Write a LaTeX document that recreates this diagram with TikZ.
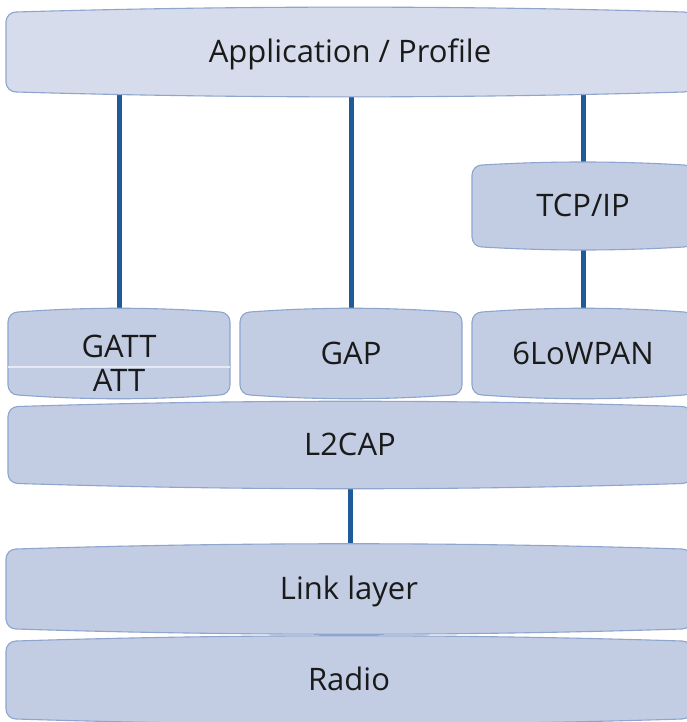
\documentclass[tikz,border=0pt]{standalone}
\usepackage{fontspec}
\setmainfont{Open Sans}
\usetikzlibrary{calc}
\pgfdeclarelayer{back}
\pgfdeclarelayer{mid}
\pgfsetlayers{back,mid,main}
\definecolor{appfill}{HTML}{D6DCEB}
\definecolor{boxfill}{HTML}{C2CDE3}
\definecolor{edge}{HTML}{8EA5CE}
\definecolor{connblue}{HTML}{1F5B98}
\definecolor{txt}{HTML}{1A1A1A}
\definecolor{divcol}{HTML}{E4E9F3}
\tikzset{
  box/.style={draw=none, fill=none, inner sep=0pt, outer sep=0pt,
    font=\fontsize{31}{36}\selectfont, text=txt, text height=25.5pt, text depth=3.6pt},
  lbl/.style={inner sep=0pt, font=\fontsize{31}{36}\selectfont, text=txt, text height=25.5pt, text depth=3.6pt},
  conn/.style={draw=connblue, line width=5pt},
  pillow/.style={draw=edge, line width=1.1pt},
  divider/.style={draw=divcol, line width=1.8pt}
}
% #1 node, #2 bulge control offset (pt), #3 fill colour
\newcommand\pillowbox[3]{%
  \begin{pgfonlayer}{mid}
  \path[pillow, fill=#3] let \p1=(#1.north west), \p2=(#1.south east),
      \n2={(\x2-\x1-20pt)/3} in
    (\x1,\y2+10pt) -- (\x1,\y1-10pt)
    .. controls (\x1,\y1-4.5pt) and (\x1+4.5pt,\y1) .. (\x1+10pt,\y1)
    .. controls (\x1+10pt+\n2,\y1+#2pt) and (\x2-10pt-\n2,\y1+#2pt) .. (\x2-10pt,\y1)
    .. controls (\x2-4.5pt,\y1) and (\x2,\y1-4.5pt) .. (\x2,\y1-10pt)
    -- (\x2,\y2+10pt)
    .. controls (\x2,\y2+4.5pt) and (\x2-4.5pt,\y2) .. (\x2-10pt,\y2)
    .. controls (\x2-10pt-\n2,\y2-#2pt) and (\x1+10pt+\n2,\y2-#2pt) .. (\x1+10pt,\y2)
    .. controls (\x1+4.5pt,\y2) and (\x1,\y2+4.5pt) .. (\x1,\y2+10pt) -- cycle;
  \end{pgfonlayer}}
\begin{document}
\begin{tikzpicture}[x=1pt, y=-1pt]
\begin{pgfonlayer}{back}
\fill[white] (0,0) rectangle (687,722);
\end{pgfonlayer}
\useasboundingbox (0,0) rectangle (687,722);

\node[box, minimum width=688pt, minimum height=80pt] (app) at (350,52) {Application / Profile};
\node[box, minimum width=222pt, minimum height=82pt] (tcp) at (583,206) {TCP/IP};
\node[box, minimum width=222pt, minimum height=83pt] (gatt) at (119,353.5) {};
\node[lbl] (gattlbl) at (119,347) {GATT};
\node[lbl] (attlbl) at (119,381) {ATT};
\node[box, minimum width=222pt, minimum height=83pt] (gap) at (351,353.5) {GAP};
\node[box, minimum width=222pt, minimum height=83pt] (low) at (583,353.5) {6LoWPAN};
\node[box, minimum width=684pt, minimum height=77pt] (l2cap) at (350,445) {L2CAP};
\node[box, minimum width=686pt, minimum height=80pt] (link) at (349,589) {Link layer};
\node[box, minimum width=686pt, minimum height=78pt] (radio) at (349,680) {Radio};

\pillowbox{app}{6.5}{appfill}
\pillowbox{tcp}{4}{boxfill}
\pillowbox{gatt}{5}{boxfill}
\pillowbox{gap}{5}{boxfill}
\pillowbox{low}{5}{boxfill}
\pillowbox{l2cap}{7}{boxfill}
\pillowbox{link}{7}{boxfill}
\pillowbox{radio}{7}{boxfill}

\begin{pgfonlayer}{mid}
\draw[divider] (gatt.west |- 0,367) -- (gatt.east |- 0,367);
\end{pgfonlayer}

\begin{pgfonlayer}{back}
\draw[conn] (gatt.north) -- (gatt.north |- app.south);
\draw[conn] (gap.north) -- (gap.north |- app.south);
\draw[conn] (tcp.north) -- (tcp.north |- app.south);
\draw[conn] (low.north) -- (tcp.south);
\draw[conn] (l2cap.south) -- (l2cap.south |- link.north);
\end{pgfonlayer}
\end{tikzpicture}
\end{document}
